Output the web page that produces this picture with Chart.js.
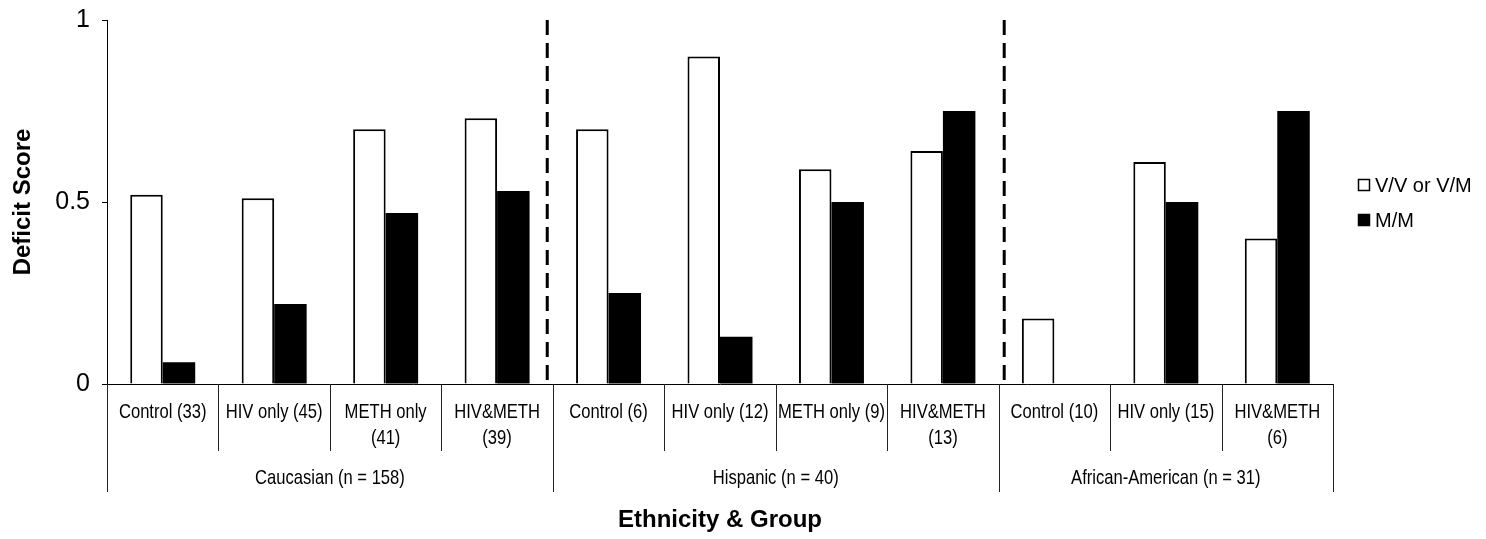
<!DOCTYPE html>
<html>
<head>
<meta charset="utf-8">
<script src="https://cdn.jsdelivr.net/npm/chart.js@4.4.1/dist/chart.umd.min.js"></script>
<style>
  html, body { margin: 0; padding: 0; background: #fff; }
</style>
</head>
<body>
<canvas id="chart" width="1486" height="539"></canvas>
<script>
// Data
const groups = ['Caucasian (n = 158)', 'Hispanic (n = 40)', 'African-American (n = 31)'];
const groupSizes = [4, 4, 3];
const categories = [
    ['Control (33)'], ['HIV only (45)'], ['METH only', '(41)'], ['HIV&METH', '(39)'],
    ['Control (6)'], ['HIV only (12)'], ['METH only (9)'], ['HIV&METH', '(13)'],
    ['Control (10)'], ['HIV only (15)'], ['HIV&METH', '(6)']
];
const seriesNames = ['V/V or V/M', 'M/M'];
const vvValues = [0.52, 0.51, 0.70, 0.73, 0.70, 0.90, 0.59, 0.64, 0.18, 0.61, 0.40];
const mmValues = [0.06, 0.22, 0.47, 0.53, 0.25, 0.13, 0.50, 0.75, 0, 0.50, 0.75];
const yTicks = [0, 0.5, 1];
const yTickLabels = ['0', '0.5', '1'];

Chart.defaults.font.family = '"Liberation Sans", Arial, sans-serif';
Chart.defaults.color = '#000';

// x-axis labels in two levels, dashed separators and the legend
const extras = {
    id: 'extras',
    afterDraw(chart) {
        const ctx = chart.ctx;
        const area = chart.chartArea;
        const x = chart.scales.x;
        const n = categories.length;
        const edge = i => i === 0 ? x.left : (i === n ? x.right : (x.getPixelForValue(i - 1) + x.getPixelForValue(i)) / 2);
        const base = area.bottom;

        ctx.save();
        // separators under categories
        ctx.strokeStyle = '#222';
        ctx.lineWidth = 1;
        let groupEdges = [0];
        groupSizes.reduce((acc, s) => { groupEdges.push(acc + s); return acc + s; }, 0);
        for (let i = 0; i <= n; i++) {
            const px = Math.round(edge(i)) + 0.5;
            const long = groupEdges.includes(i);
            ctx.beginPath();
            ctx.moveTo(px, base);
            ctx.lineTo(px, long ? base + 108 : base + 67);
            ctx.stroke();
        }

        // category labels (narrow text)
        ctx.fillStyle = '#000';
        ctx.textAlign = 'center';
        ctx.textBaseline = 'middle';
        ctx.font = '21px "Liberation Sans", Arial, sans-serif';
        categories.forEach((lines, i) => {
            const cx = x.getPixelForValue(i);
            lines.forEach((t, j) => {
                ctx.save();
                ctx.translate(cx, base + 28 + j * 26);
                ctx.scale(0.79, 1);
                ctx.fillText(t, 0, 0);
                ctx.restore();
            });
        });

        // group labels
        groups.forEach((g, k) => {
            const cx = (edge(groupEdges[k]) + edge(groupEdges[k + 1])) / 2;
            ctx.save();
            ctx.translate(cx, base + 94);
            ctx.scale(0.79, 1);
            ctx.fillText(g, 0, 0);
            ctx.restore();
        });

        // dashed dividers between ethnicities
        ctx.strokeStyle = '#000';
        ctx.lineWidth = 3;
        ctx.setLineDash([15, 8]);
        [3.45, 7.55].forEach(v => {
            const px = x.getPixelForValue(v);
            ctx.beginPath();
            ctx.moveTo(px, area.top);
            ctx.lineTo(px, area.bottom);
            ctx.stroke();
        });
        ctx.setLineDash([]);

        // legend
        const lx = area.right + 25;
        const ly = [185, 220];
        ctx.textAlign = 'left';
        ctx.font = '20px "Liberation Sans", Arial, sans-serif';
        seriesNames.forEach((s, i) => {
            ctx.lineWidth = 1.5;
            ctx.fillStyle = i === 0 ? '#fff' : '#000';
            ctx.fillRect(lx, ly[i] - 6, 12, 12);
            ctx.strokeStyle = '#000';
            ctx.strokeRect(lx + 0.5, ly[i] - 5.5, 11, 11);
            ctx.fillStyle = '#000';
            ctx.fillText(s, lx + 17, ly[i] + 1);
        });
        ctx.restore();
    }
};

const ctx = document.querySelector('#chart').getContext('2d');
const chart = new Chart(ctx, {
    type: 'bar',
    data: {
        labels: categories,
        datasets: [{
            label: seriesNames[0],
            data: vvValues,
            backgroundColor: '#fff',
            borderColor: '#000',
            borderWidth: 2
        }, {
            label: seriesNames[1],
            data: mmValues,
            backgroundColor: '#000',
            borderColor: '#000',
            borderWidth: 0
        }]
    },
    options: {
        responsive: false,
        animation: false,
        devicePixelRatio: 1,
        datasets: {
            bar: { categoryPercentage: 0.583, barPercentage: 1 }
        },
        layout: {
            padding: { top: 20, right: 153, left: 0, bottom: 0 }
        },
        scales: {
            x: {
                ticks: { display: false },
                grid: { display: true, drawOnChartArea: false, drawTicks: false },
                border: { display: true, color: '#000', width: 1 },
                title: {
                    display: true,
                    text: 'Ethnicity & Group',
                    font: { size: 24, weight: 'bold' },
                    padding: { top: 0, bottom: 4.6 }
                },
                afterFit: s => { s.height = 155; }
            },
            y: {
                min: 0,
                max: 1,
                afterBuildTicks: s => { s.ticks = yTicks.map(v => ({ value: v })); },
                ticks: {
                    font: { size: 25 },
                    padding: 12,
                    callback: (v, i) => yTickLabels[i]
                },
                grid: { drawOnChartArea: false, drawTicks: true, tickLength: 5, color: '#000' },
                border: { display: true, color: '#000', width: 1 },
                title: {
                    display: true,
                    text: 'Deficit Score',
                    font: { size: 24, weight: 'bold' },
                    padding: { top: 9, bottom: 0 }
                },
                afterFit: s => { s.width = 107; s.paddingTop = 0; s.paddingBottom = 0; }
            }
        },
        plugins: {
            legend: { display: false },
            tooltip: { enabled: false }
        }
    },
    plugins: [extras]
});
</script>
</body>
</html>
